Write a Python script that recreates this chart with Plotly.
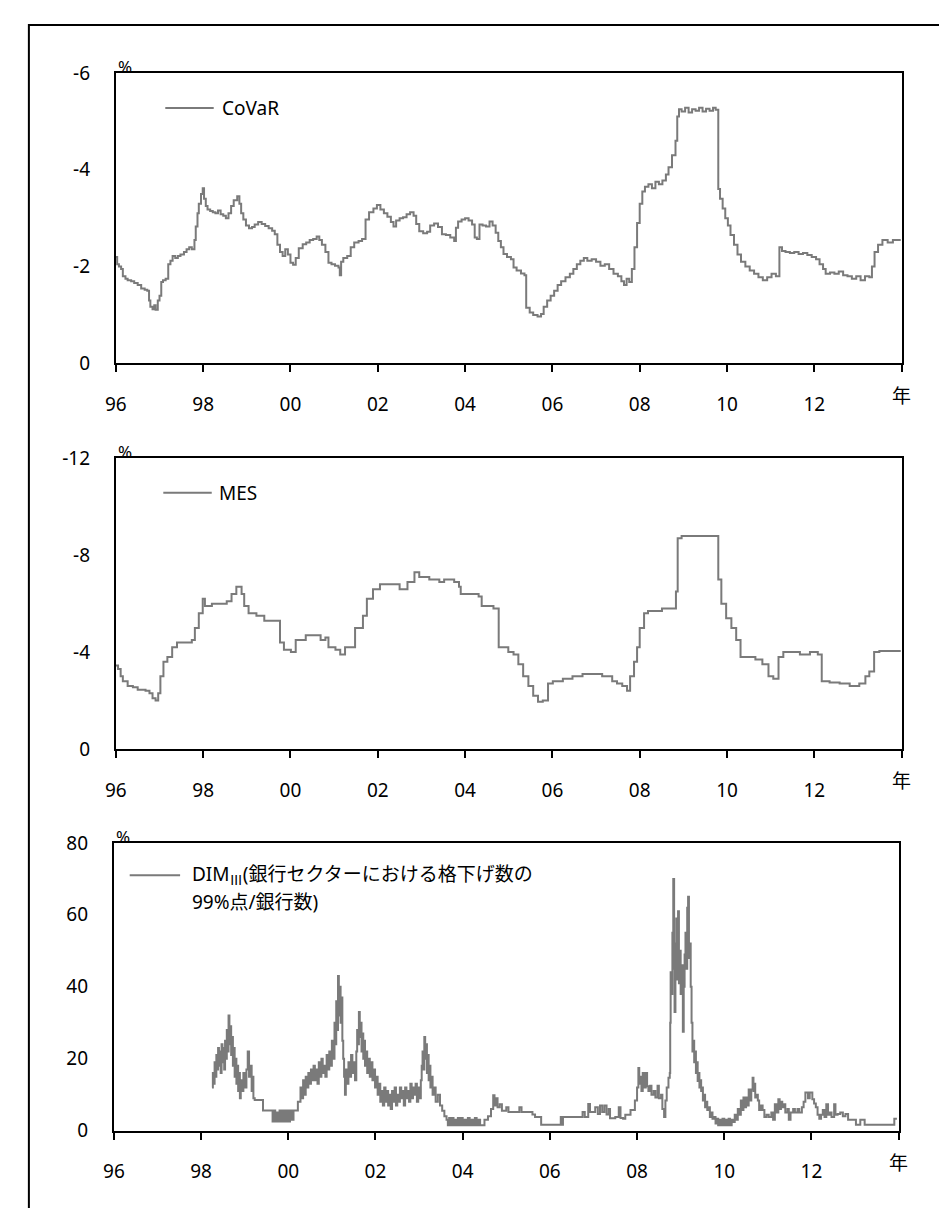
import plotly.graph_objects as go

# ---------------- data (decimal year, value) ----------------
covar_data = [
    (1996.00, -2.20), (1996.03, -2.05), (1996.07, -2.00), (1996.12, -1.95), (1996.16, -1.80),
    (1996.22, -1.75), (1996.27, -1.72), (1996.35, -1.70), (1996.42, -1.66), (1996.50, -1.62),
    (1996.58, -1.55), (1996.66, -1.52), (1996.72, -1.50), (1996.76, -1.30), (1996.79, -1.17),
    (1996.84, -1.12), (1996.88, -1.20), (1996.91, -1.11), (1996.96, -1.30), (1997.00, -1.40),
    (1997.04, -1.68), (1997.08, -1.72), (1997.14, -1.75), (1997.20, -2.05), (1997.25, -2.12),
    (1997.30, -2.22), (1997.36, -2.18), (1997.42, -2.22), (1997.48, -2.25), (1997.56, -2.30),
    (1997.62, -2.36), (1997.68, -2.40), (1997.74, -2.36), (1997.80, -2.55), (1997.83, -2.83),
    (1997.87, -3.10), (1997.90, -3.30), (1997.95, -3.50), (1997.99, -3.62), (1998.02, -3.40),
    (1998.06, -3.25), (1998.10, -3.18), (1998.16, -3.15), (1998.22, -3.12), (1998.28, -3.10),
    (1998.34, -3.16), (1998.40, -3.08), (1998.46, -3.05), (1998.52, -3.00), (1998.58, -3.10),
    (1998.64, -3.25), (1998.70, -3.37), (1998.78, -3.45), (1998.83, -3.30), (1998.87, -3.10),
    (1998.92, -2.97), (1998.98, -2.85), (1999.05, -2.79), (1999.12, -2.82), (1999.18, -2.87),
    (1999.26, -2.92), (1999.34, -2.88), (1999.42, -2.84), (1999.50, -2.79), (1999.58, -2.74),
    (1999.64, -2.67), (1999.70, -2.45), (1999.76, -2.30), (1999.82, -2.22), (1999.88, -2.36),
    (1999.94, -2.25), (2000.00, -2.08), (2000.06, -2.04), (2000.12, -2.18), (2000.19, -2.38),
    (2000.28, -2.46), (2000.36, -2.50), (2000.44, -2.55), (2000.52, -2.57), (2000.60, -2.62),
    (2000.66, -2.55), (2000.72, -2.45), (2000.80, -2.30), (2000.87, -2.08), (2000.94, -2.05),
    (2001.02, -2.02), (2001.10, -1.98), (2001.13, -1.82), (2001.16, -2.10), (2001.21, -2.18),
    (2001.30, -2.22), (2001.38, -2.40), (2001.46, -2.50), (2001.56, -2.53), (2001.64, -2.57),
    (2001.72, -2.97), (2001.80, -3.12), (2001.90, -3.20), (2001.98, -3.27), (2002.06, -3.18),
    (2002.14, -3.10), (2002.22, -3.03), (2002.30, -2.92), (2002.36, -2.83), (2002.42, -2.95),
    (2002.50, -3.00), (2002.58, -3.02), (2002.66, -3.08), (2002.74, -3.12), (2002.82, -3.05),
    (2002.88, -2.88), (2002.95, -2.73), (2003.04, -2.69), (2003.13, -2.72), (2003.20, -2.85),
    (2003.29, -2.89), (2003.38, -2.82), (2003.47, -2.67), (2003.56, -2.65), (2003.66, -2.60),
    (2003.75, -2.53), (2003.79, -2.80), (2003.84, -2.93), (2003.92, -2.97), (2004.00, -3.00),
    (2004.08, -2.95), (2004.16, -2.87), (2004.22, -2.60), (2004.27, -2.57), (2004.33, -2.87),
    (2004.40, -2.85), (2004.48, -2.83), (2004.56, -2.93), (2004.63, -2.85), (2004.70, -2.70),
    (2004.76, -2.53), (2004.82, -2.40), (2004.88, -2.26), (2004.96, -2.20), (2005.05, -2.15),
    (2005.11, -1.98), (2005.18, -1.92), (2005.28, -1.86), (2005.36, -1.82), (2005.40, -1.15),
    (2005.48, -1.05), (2005.56, -1.00), (2005.66, -0.97), (2005.74, -1.02), (2005.80, -1.17),
    (2005.88, -1.30), (2005.96, -1.40), (2006.04, -1.50), (2006.12, -1.62), (2006.20, -1.70),
    (2006.30, -1.78), (2006.40, -1.85), (2006.48, -1.95), (2006.56, -2.05), (2006.64, -2.12),
    (2006.72, -2.18), (2006.80, -2.12), (2006.90, -2.15), (2007.00, -2.10), (2007.10, -2.02),
    (2007.20, -2.05), (2007.30, -1.95), (2007.40, -1.85), (2007.50, -1.80), (2007.58, -1.70),
    (2007.64, -1.62), (2007.70, -1.75), (2007.76, -1.68), (2007.82, -1.95), (2007.88, -2.40),
    (2007.94, -2.90), (2008.00, -3.30), (2008.06, -3.55), (2008.12, -3.65), (2008.20, -3.70),
    (2008.28, -3.62), (2008.36, -3.75), (2008.44, -3.70), (2008.52, -3.78), (2008.60, -3.90),
    (2008.66, -4.05), (2008.74, -4.30), (2008.82, -4.60), (2008.86, -5.10), (2008.90, -5.25),
    (2008.96, -5.20), (2009.04, -5.28), (2009.12, -5.18), (2009.20, -5.25), (2009.28, -5.22),
    (2009.36, -5.28), (2009.44, -5.20), (2009.52, -5.26), (2009.60, -5.22), (2009.68, -5.28),
    (2009.74, -5.24), (2009.80, -3.60), (2009.84, -3.40), (2009.90, -3.20), (2009.96, -3.00),
    (2010.02, -2.85), (2010.08, -2.65), (2010.16, -2.45), (2010.24, -2.25), (2010.32, -2.10),
    (2010.42, -2.00), (2010.52, -1.92), (2010.62, -1.85), (2010.72, -1.78), (2010.82, -1.72),
    (2010.92, -1.78), (2011.02, -1.85), (2011.12, -1.80), (2011.20, -2.40), (2011.26, -2.32),
    (2011.34, -2.30), (2011.44, -2.28), (2011.54, -2.30), (2011.64, -2.26), (2011.74, -2.28),
    (2011.84, -2.24), (2011.94, -2.20), (2012.04, -2.15), (2012.12, -2.05), (2012.20, -1.95),
    (2012.26, -1.85), (2012.36, -1.88), (2012.46, -1.85), (2012.56, -1.90), (2012.66, -1.82),
    (2012.76, -1.80), (2012.86, -1.75), (2012.96, -1.80), (2013.06, -1.72), (2013.16, -1.80),
    (2013.26, -1.78), (2013.32, -2.00), (2013.38, -2.30), (2013.46, -2.45), (2013.56, -2.55),
    (2013.68, -2.50), (2013.80, -2.55), (2013.92, -2.55), (2013.98, -2.55),
]

mes_data = [
    (1996.00, -3.45), (1996.05, -3.30), (1996.11, -3.00), (1996.16, -2.80), (1996.27, -2.60),
    (1996.39, -2.55), (1996.50, -2.45), (1996.68, -2.40), (1996.77, -2.30), (1996.84, -2.10),
    (1996.91, -2.00), (1996.97, -2.30), (1997.02, -3.00), (1997.09, -3.60), (1997.18, -3.80),
    (1997.29, -4.20), (1997.40, -4.40), (1997.63, -4.40), (1997.74, -4.50), (1997.81, -5.00),
    (1997.90, -5.60), (1997.99, -6.20), (1998.04, -5.90), (1998.20, -6.00), (1998.54, -6.10),
    (1998.65, -6.40), (1998.76, -6.70), (1998.88, -6.40), (1998.94, -5.90), (1999.04, -5.60),
    (1999.22, -5.50), (1999.40, -5.30), (1999.71, -5.30), (1999.76, -4.40), (1999.85, -4.10),
    (2000.01, -4.00), (2000.12, -4.50), (2000.35, -4.70), (2000.58, -4.70), (2000.69, -4.50),
    (2000.80, -4.60), (2000.87, -4.20), (2001.03, -4.10), (2001.14, -3.90), (2001.25, -4.20),
    (2001.48, -5.00), (2001.66, -5.50), (2001.75, -6.20), (2001.89, -6.60), (2002.05, -6.80),
    (2002.39, -6.80), (2002.50, -6.60), (2002.68, -6.90), (2002.84, -7.30), (2002.95, -7.10),
    (2003.18, -7.00), (2003.41, -6.90), (2003.52, -7.00), (2003.75, -6.90), (2003.86, -6.70),
    (2003.90, -6.40), (2004.31, -6.30), (2004.38, -5.90), (2004.65, -5.80), (2004.77, -4.20),
    (2004.99, -4.00), (2005.11, -3.90), (2005.22, -3.50), (2005.33, -3.00), (2005.45, -2.60),
    (2005.56, -2.20), (2005.67, -1.95), (2005.78, -2.00), (2005.90, -2.70), (2006.01, -2.80),
    (2006.24, -2.90), (2006.46, -3.00), (2006.69, -3.10), (2006.92, -3.10), (2007.14, -3.00),
    (2007.37, -2.80), (2007.48, -2.70), (2007.60, -2.60), (2007.71, -2.40), (2007.78, -3.00),
    (2007.87, -3.60), (2007.94, -4.20), (2008.00, -5.00), (2008.10, -5.60), (2008.19, -5.70),
    (2008.51, -5.80), (2008.74, -5.80), (2008.83, -6.50), (2008.87, -8.70), (2008.96, -8.80),
    (2009.76, -8.80), (2009.80, -7.00), (2009.87, -6.00), (2009.98, -5.40), (2010.10, -5.00),
    (2010.21, -4.50), (2010.31, -3.80), (2010.65, -3.70), (2010.81, -3.50), (2010.95, -3.00),
    (2011.06, -2.90), (2011.18, -3.80), (2011.29, -4.00), (2011.45, -4.00), (2011.67, -3.90),
    (2011.90, -4.00), (2012.08, -3.90), (2012.17, -2.80), (2012.35, -2.75), (2012.58, -2.70),
    (2012.81, -2.60), (2013.03, -2.70), (2013.17, -3.00), (2013.26, -3.20), (2013.37, -4.00),
    (2013.49, -4.05), (2013.98, -4.05),
]

dim_data = [
    (1998.25, 12), (1998.27, 16), (1998.29, 13), (1998.31, 19), (1998.33, 15), (1998.35, 21),
    (1998.37, 17), (1998.39, 23), (1998.41, 18), (1998.43, 22), (1998.45, 16), (1998.47, 24),
    (1998.49, 19), (1998.51, 23), (1998.53, 17), (1998.55, 25), (1998.57, 20), (1998.59, 28),
    (1998.61, 22), (1998.63, 32), (1998.65, 24), (1998.67, 29), (1998.69, 21), (1998.71, 26),
    (1998.73, 18), (1998.75, 23), (1998.77, 15), (1998.79, 20), (1998.81, 13), (1998.83, 18),
    (1998.85, 11), (1998.87, 16), (1998.89, 9), (1998.91, 14), (1998.94, 11), (1998.97, 16),
    (1999.00, 12), (1999.04, 17), (1999.07, 22), (1999.10, 15), (1999.13, 18), (1999.16, 11),
    (1999.18, 15), (1999.20, 9), (1999.23, 8.5), (1999.42, 5.6), (1999.64, 2.5), (1999.67, 5.6),
    (1999.70, 2.5), (1999.73, 5.0), (1999.76, 2.5), (1999.80, 5.6), (1999.84, 2.5), (1999.88, 5.6),
    (1999.92, 2.5), (1999.96, 5.6), (2000.00, 2.5), (2000.04, 5.6), (2000.08, 3.0), (2000.12, 5.6),
    (2000.22, 8.0), (2000.28, 12), (2000.31, 9), (2000.34, 14), (2000.37, 10), (2000.40, 15),
    (2000.43, 12), (2000.46, 16), (2000.49, 13), (2000.52, 17), (2000.55, 14), (2000.58, 18),
    (2000.61, 14), (2000.64, 17), (2000.67, 13), (2000.70, 19), (2000.73, 15), (2000.76, 20),
    (2000.79, 16), (2000.82, 18), (2000.85, 15), (2000.88, 21), (2000.91, 17), (2000.94, 22),
    (2000.97, 18), (2001.00, 25), (2001.03, 20), (2001.06, 30), (2001.08, 24), (2001.10, 36),
    (2001.12, 28), (2001.14, 43), (2001.16, 32), (2001.18, 40), (2001.20, 30), (2001.22, 37),
    (2001.24, 25), (2001.26, 20), (2001.28, 15), (2001.30, 10), (2001.32, 17), (2001.35, 13),
    (2001.38, 19), (2001.41, 15), (2001.44, 21), (2001.47, 16), (2001.50, 19), (2001.53, 14),
    (2001.56, 22), (2001.58, 28), (2001.60, 24), (2001.62, 33), (2001.64, 26), (2001.66, 30),
    (2001.68, 22), (2001.70, 27), (2001.72, 20), (2001.74, 25), (2001.76, 18), (2001.78, 22),
    (2001.81, 16), (2001.84, 20), (2001.87, 15), (2001.90, 19), (2001.93, 14), (2001.96, 17),
    (2001.99, 12), (2002.02, 15), (2002.05, 10), (2002.08, 13), (2002.11, 8), (2002.14, 11),
    (2002.17, 7), (2002.20, 12), (2002.23, 8), (2002.26, 11), (2002.29, 7), (2002.32, 10),
    (2002.35, 6), (2002.38, 11), (2002.41, 8), (2002.44, 12), (2002.47, 7), (2002.50, 10),
    (2002.53, 8), (2002.56, 12), (2002.59, 9), (2002.62, 11), (2002.65, 7), (2002.68, 12),
    (2002.71, 9), (2002.74, 11), (2002.77, 8), (2002.80, 13), (2002.83, 9), (2002.86, 12),
    (2002.89, 10), (2002.92, 13), (2002.95, 8), (2002.98, 12), (2003.01, 9), (2003.04, 14),
    (2003.06, 18), (2003.08, 22), (2003.10, 17), (2003.12, 26), (2003.14, 20), (2003.16, 24),
    (2003.18, 16), (2003.20, 21), (2003.22, 14), (2003.24, 18), (2003.26, 12), (2003.28, 15),
    (2003.31, 10), (2003.34, 12), (2003.38, 8), (2003.43, 10), (2003.48, 7), (2003.53, 5.5),
    (2003.58, 4), (2003.63, 3), (2003.66, 1.5), (2003.69, 3.5), (2003.72, 1.5), (2003.75, 3.5),
    (2003.79, 1.5), (2003.82, 3), (2003.86, 1.5), (2003.89, 3.5), (2003.93, 1.5), (2003.96, 3.5),
    (2004.00, 1.5), (2004.04, 3), (2004.08, 1.5), (2004.12, 3.5), (2004.16, 1.5), (2004.20, 3),
    (2004.24, 1.5), (2004.28, 3.5), (2004.32, 1.5), (2004.36, 3), (2004.40, 1.5), (2004.50, 3),
    (2004.58, 4), (2004.65, 6), (2004.70, 9.8), (2004.73, 7), (2004.76, 9), (2004.80, 6.5),
    (2004.85, 7.3), (2004.90, 5.5), (2005.00, 6.5), (2005.05, 5.2), (2005.20, 5.2), (2005.30, 6.5),
    (2005.35, 5.2), (2005.50, 5.2), (2005.60, 4.5), (2005.66, 3.8), (2005.80, 1.6), (2006.25, 3.8),
    (2006.27, 1.6), (2006.30, 3.8), (2006.75, 5.2), (2006.80, 3.8), (2006.88, 7.4), (2006.92, 5.2),
    (2007.00, 5.2), (2007.04, 6.5), (2007.10, 4.6), (2007.15, 7.0), (2007.20, 5.2), (2007.25, 7.0),
    (2007.30, 4.5), (2007.35, 6.0), (2007.38, 3.4), (2007.50, 3.8), (2007.58, 6.5), (2007.62, 3.5),
    (2007.68, 3.3), (2007.73, 4.4), (2007.85, 5.7), (2007.95, 8.4), (2008.00, 12), (2008.03, 17.4),
    (2008.05, 13), (2008.07, 15), (2008.10, 11), (2008.13, 16), (2008.16, 12), (2008.20, 16),
    (2008.23, 12.3), (2008.26, 11), (2008.30, 12.5), (2008.33, 10), (2008.38, 11), (2008.42, 9.2),
    (2008.47, 12.5), (2008.50, 9), (2008.55, 10), (2008.58, 6), (2008.62, 3.8), (2008.65, 8.4),
    (2008.68, 12), (2008.72, 14.7), (2008.75, 16), (2008.76, 30), (2008.77, 44), (2008.79, 38),
    (2008.81, 55), (2008.83, 70), (2008.85, 45), (2008.86, 33), (2008.88, 52), (2008.90, 59),
    (2008.92, 42), (2008.94, 61), (2008.96, 41), (2008.98, 50), (2009.00, 38), (2009.02, 46),
    (2009.05, 27.5), (2009.07, 40), (2009.09, 49), (2009.11, 55), (2009.13, 45), (2009.15, 62),
    (2009.17, 65), (2009.19, 48), (2009.21, 52), (2009.23, 40), (2009.25, 30), (2009.27, 22),
    (2009.29, 25), (2009.31, 19), (2009.33, 22), (2009.35, 16), (2009.37, 19), (2009.39, 13.8),
    (2009.41, 16), (2009.43, 12), (2009.45, 14), (2009.47, 11), (2009.49, 12), (2009.51, 8.4),
    (2009.53, 10), (2009.56, 6.5), (2009.58, 8), (2009.61, 5.7), (2009.64, 6.5), (2009.67, 3.8),
    (2009.70, 5), (2009.73, 3.3), (2009.77, 3.8), (2009.80, 2.0), (2009.83, 3.3), (2009.86, 1.5),
    (2009.90, 3.0), (2009.93, 1.5), (2009.96, 3.3), (2010.00, 1.5), (2010.03, 3.0), (2010.06, 1.5),
    (2010.10, 3.3), (2010.13, 1.5), (2010.17, 3.0), (2010.20, 2.4), (2010.24, 4.4), (2010.28, 3.0),
    (2010.31, 6.0), (2010.34, 4.4), (2010.38, 8.4), (2010.41, 5.7), (2010.44, 9.2), (2010.47, 6.5),
    (2010.50, 9.2), (2010.53, 7.0), (2010.56, 11.4), (2010.59, 8.4), (2010.62, 11.4), (2010.65, 14.7),
    (2010.67, 11), (2010.69, 13), (2010.71, 9.2), (2010.74, 10), (2010.77, 8.4), (2010.80, 5.7),
    (2010.84, 7), (2010.88, 5.7), (2010.92, 3.8), (2010.97, 4.4), (2011.02, 3.8), (2011.08, 5),
    (2011.12, 3.0), (2011.16, 7.3), (2011.20, 5.0), (2011.24, 8.7), (2011.27, 6.0), (2011.30, 8.0),
    (2011.33, 6.5), (2011.37, 7.3), (2011.40, 5.0), (2011.45, 6.0), (2011.48, 3.0), (2011.52, 5.0),
    (2011.58, 6.0), (2011.62, 5.0), (2011.68, 6.0), (2011.72, 5.0), (2011.78, 6.5), (2011.82, 8.0),
    (2011.86, 10.6), (2011.92, 9.0), (2011.96, 10.6), (2012.02, 8.7), (2012.06, 7.5), (2012.10, 6.5),
    (2012.14, 4.4), (2012.18, 3.3), (2012.22, 4.4), (2012.26, 5.7), (2012.30, 3.8), (2012.34, 7.3),
    (2012.38, 4.4), (2012.42, 5.0), (2012.46, 3.8), (2012.52, 7.3), (2012.55, 4.4), (2012.60, 4.6),
    (2012.66, 5.0), (2012.72, 4.0), (2012.78, 4.6), (2012.84, 3.0), (2012.94, 3.0), (2013.02, 1.6),
    (2013.12, 3.0), (2013.22, 1.6), (2013.90, 3.3), (2013.96, 3.3),
]

x_tickvals = [1996, 1998, 2000, 2002, 2004, 2006, 2008, 2010, 2012]
x_ticktext = ["96", "98", "00", "02", "04", "06", "08", "10", "12"]
x_end = 2014
covar_ticks = [0, -2, -4, -6]
mes_ticks = [0, -4, -8, -12]
dim_ticks = [0, 20, 40, 60, 80]

covar_name = "CoVaR"
mes_name = "MES"
dim_name_1 = "DIM<sub>Ⅲ</sub>(銀行セクターにおける格下げ数の"
dim_name_2 = "99%点/銀行数)"
year_unit = "年"
pct_unit = "%"

# ---------------- layout helpers ----------------
W, H = 947, 1208
FONT = "Noto Sans, Noto Sans CJK JP, sans-serif"
FS = 19
GRAY = "#7a7a7a"


def px(x):
    return x / W


def py(y):
    return 1 - y / H


panels = [
    # (left, right, top, bottom) in pixels
    (98, 893, 53, 350),
    (98, 893, 447, 744),
    (96, 890, 840, 1134),
]

fig = go.Figure()

series = [covar_data, mes_data, dim_data]
names = [covar_name, mes_name, "DIMⅢ"]
for i, data in enumerate(series):
    t = [p[0] for p in data]
    v = [p[1] for p in data]
    suffix = "" if i == 0 else str(i + 1)
    fig.add_trace(go.Scatter(
        x=t, y=v, mode="lines", line=dict(color=GRAY, width=2, shape="hv"),
        name=names[i], showlegend=False, hoverinfo="skip",
        xaxis="x" + suffix, yaxis="y" + suffix,
    ))

y_specs = [
    dict(range=[0, -6], tickvals=covar_ticks, ticktext=[str(v) for v in covar_ticks]),
    dict(range=[0, -12], tickvals=mes_ticks, ticktext=[str(v) for v in mes_ticks]),
    dict(range=[0, 80], tickvals=dim_ticks, ticktext=[str(v) for v in dim_ticks]),
]

layout = dict(
    width=W, height=H, margin=dict(l=0, r=0, t=0, b=0),
    paper_bgcolor="white", plot_bgcolor="white",
    font=dict(family=FONT, size=FS, color="black"),
    showlegend=False,
)

for i, (l, r, t, b) in enumerate(panels):
    suffix = "" if i == 0 else str(i + 1)
    layout["xaxis" + suffix] = dict(
        domain=[px(l), px(r)], range=[1996, x_end], anchor="y" + suffix,
        tickvals=x_tickvals, ticktext=x_ticktext,
        ticks="outside", ticklen=7, tickwidth=2, tickcolor="black",
        minor=dict(tickvals=[x_end], ticks="outside", ticklen=7, tickwidth=2,
                   tickcolor="black", showgrid=False),
        showline=True, linecolor="black", linewidth=2, mirror=True,
        showgrid=False, zeroline=False, ticklabelstandoff=16,
        fixedrange=True,
    )
    layout["yaxis" + suffix] = dict(
        domain=[py(b), py(t)], anchor="x" + suffix,
        ticks="", showline=True, linecolor="black", linewidth=2, mirror=True,
        showgrid=False, zeroline=False, ticklabelstandoff=20,
        fixedrange=True, **y_specs[i],
    )

fig.update_layout(**layout)

annotations = []
shapes = []
# "%" unit labels and "年" labels
for i, (l, r, t, b) in enumerate(panels):
    annotations.append(dict(
        text=pct_unit, xref="paper", yref="paper", x=px(l), y=py(t - 7),
        xanchor="left", yanchor="middle", showarrow=False, font=dict(size=17),
    ))
    annotations.append(dict(
        text=year_unit, xref="paper", yref="paper", x=px(r), y=py(b + 33),
        xanchor="center", yanchor="middle", showarrow=False, font=dict(size=FS),
    ))

# legends (line sample + label)
legend_items = [
    (148, 197, 89, 203, [covar_name]),
    (146, 195, 482, 200, [mes_name]),
    (112, 163, 873, 173, [dim_name_1, dim_name_2]),
]
for x0, x1, yy, xt, texts in legend_items:
    shapes.append(dict(
        type="line", xref="paper", yref="paper",
        x0=px(x0), x1=px(x1), y0=py(yy), y1=py(yy),
        line=dict(color=GRAY, width=2),
    ))
    for k, txt in enumerate(texts):
        annotations.append(dict(
            text=txt, xref="paper", yref="paper", x=px(xt), y=py(yy + 27 * k),
            xanchor="left", yanchor="middle", showarrow=False, font=dict(size=FS),
        ))

# outer frame
shapes.append(dict(
    type="rect", xref="paper", yref="paper",
    x0=px(10), x1=px(944), y0=-0.01, y1=py(4),
    line=dict(color="black", width=2), fillcolor="rgba(0,0,0,0)", layer="above",
))

fig.update_layout(annotations=annotations, shapes=shapes)

fig.write_html("out.html")
